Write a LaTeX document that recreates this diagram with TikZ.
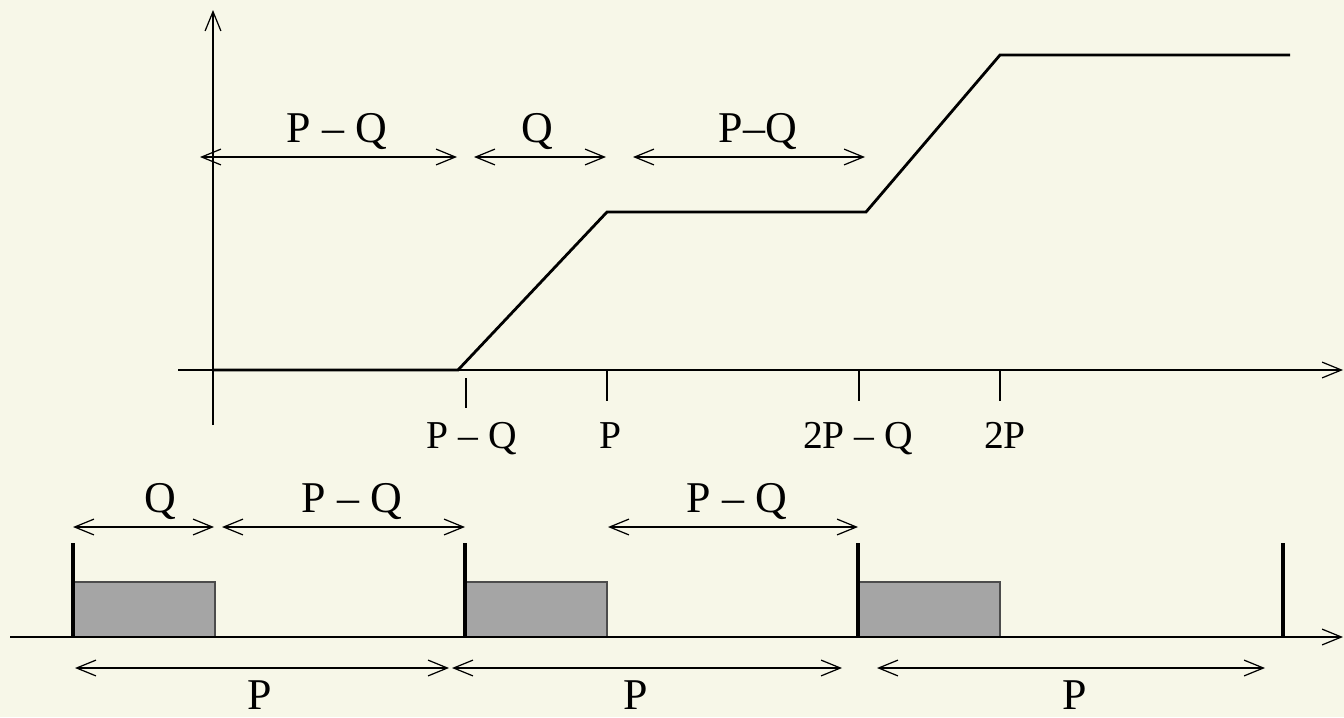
\documentclass[tikz,border=0pt]{standalone}
\usepackage{fontspec}
\setmainfont{Liberation Serif}
\usetikzlibrary{arrows.meta}
\definecolor{fond}{RGB}{247,247,232}
\definecolor{boite}{RGB}{165,165,165}

\begin{document}
\begin{tikzpicture}[x=0.02cm, y=-0.02cm, line width=0.7pt,
  fleche/.style={{Straight Barb[length=11pt,width=9pt]}-{Straight Barb[length=11pt,width=9pt]}},
  axe/.style={-{Straight Barb[length=11pt,width=9pt]}},
  lbl/.style={font=\fontsize{25}{30}\selectfont, inner sep=0pt, anchor=base},
  grad/.style={lbl, font=\fontsize{22.5}{27}\selectfont}]

\fill[fond] (0,0) rectangle (1344,717);
\useasboundingbox (0,0) rectangle (1344,717);

\def\base{637}
\def\haut{582}
\def\larg{142}

% axes
\coordinate (o) at (213,370);
\coordinate (yhaut) at (213,10);
\coordinate (ybas) at (213,425);
\coordinate (xgauche) at (178,370);
\coordinate (xdroite) at (1343,370);
\draw[axe] (ybas) -- (yhaut);
\draw[axe] (xgauche) -- (xdroite);

% courbe
\draw[line width=1.6pt] (o) -- (458,370) -- (607,212) -- (866,212) -- (1000,55) -- (1290,55);

% graduations
\draw (466,378) -- (466,408);
\draw (607,370) -- (607,401);
\draw (859,370) -- (859,401);
\draw (1000,370) -- (1000,401);
\node[grad] (tPQ) at (472,448) {P – Q};
\node[grad] (tP) at (610,448) {P};
\node[grad] (t2PQ) at (858,448) {2P – Q};
\node[grad] (t2P) at (1005,448) {2P};

% intervalles en haut
\draw[fleche] (200,157) -- (457,157);
\draw[fleche] (474,157) -- (606,157);
\draw[fleche] (633,157) -- (865,157);
\node[lbl] (hPQ) at (337,142) {P – Q};
\node[lbl] (hQ) at (537,142) {Q};
\node[lbl] (hPQbis) at (758,142) {P–Q};

% echeancier
\foreach \x in {73,465,858}
  \filldraw[fill=boite, draw=black!70, line width=0.6pt] (\x,\haut) rectangle (\x+\larg,\base);
\draw[line width=1.5pt] (10,\base) -- (1335,\base);
\draw[axe] (1320,\base) -- (1343,\base);
\foreach \x in {73,465,858,1283}
  \draw[line width=2.8pt] (\x,543) -- (\x,\base);

\draw[fleche] (73,527) -- (214,527);
\draw[fleche] (222,527) -- (465,527);
\draw[fleche] (608,527) -- (858,527);
\node[lbl] (bQ) at (160,512) {Q};
\node[lbl] (bPQ) at (352,512) {P – Q};
\node[lbl] (bPQbis) at (737,512) {P – Q};

\draw[fleche] (75,668) -- (449,668);
\draw[fleche] (452,668) -- (842,668);
\draw[fleche] (877,668) -- (1265,668);
\node[lbl] (p1) at (260,709) {P};
\node[lbl] (p2) at (636,709) {P};
\node[lbl] (p3) at (1075,709) {P};

\end{tikzpicture}
\end{document}
